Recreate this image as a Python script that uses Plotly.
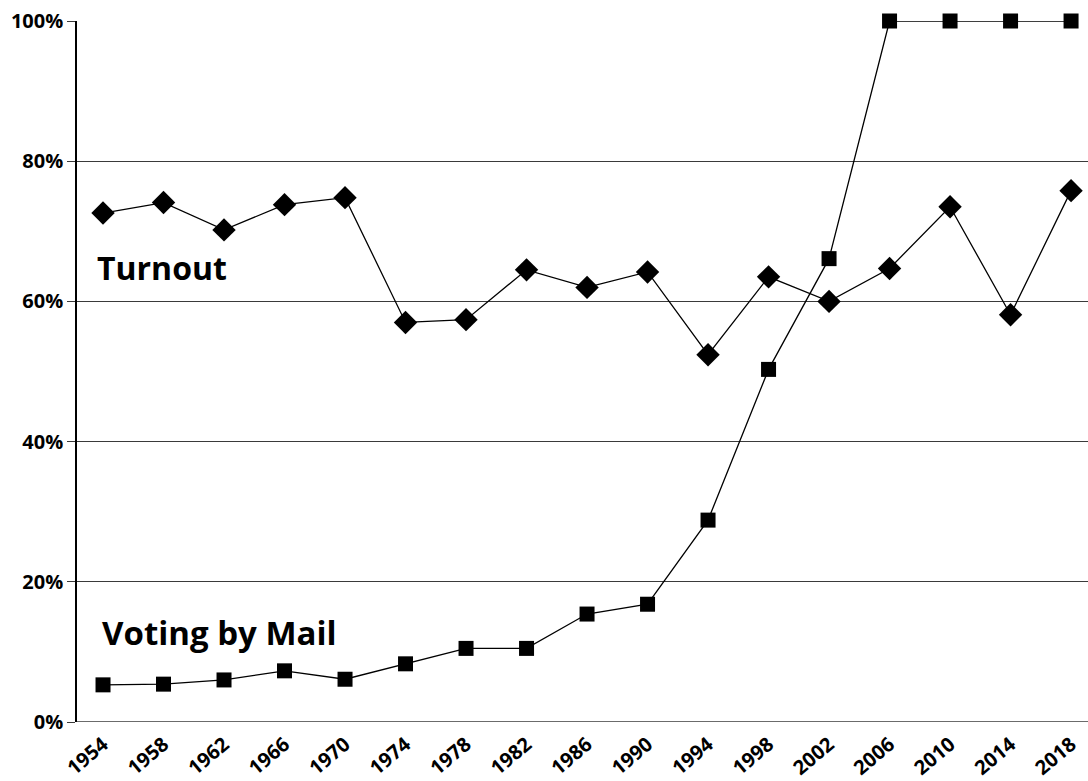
import plotly.graph_objects as go

years = [1954, 1958, 1962, 1966, 1970, 1974, 1978, 1982, 1986, 1990,
         1994, 1998, 2002, 2006, 2010, 2014, 2018]
turnout = [72.6, 74.1, 70.2, 73.8, 74.8, 57.0, 57.4, 64.5, 62.0, 64.2,
           52.4, 63.5, 60.0, 64.7, 73.5, 58.1, 75.8]
mail = [5.3, 5.4, 6.0, 7.3, 6.1, 8.3, 10.5, 10.5, 15.4, 16.8,
        28.8, 50.3, 66.1, 100, 100, 100, 100]
y_ticks = [0, 20, 40, 60, 80, 100]
y_labels = ["0%", "20%", "40%", "60%", "80%", "100%"]

FONT = "Open Sans"

fig = go.Figure()
fig.add_trace(go.Scatter(
    x=years, y=turnout, mode="lines+markers",
    line=dict(color="black", width=1.3),
    marker=dict(symbol="diamond", size=18, color="black"),
    cliponaxis=False, showlegend=False))
fig.add_trace(go.Scatter(
    x=years, y=mail, mode="lines+markers",
    line=dict(color="black", width=1.3),
    marker=dict(symbol="square", size=15, color="black"),
    cliponaxis=False, showlegend=False))

fig.add_annotation(x=1954, y=64.8, xref="x", yref="y", text="<b>Turnout</b>",
                   showarrow=False, xanchor="left", yanchor="middle",
                   xshift=-8, font=dict(family=FONT, size=32, color="black"))
fig.add_annotation(x=1954, y=12.8, xref="x", yref="y", text="<b>Voting by Mail</b>",
                   showarrow=False, xanchor="left", yanchor="middle",
                   xshift=-3, font=dict(family=FONT, size=33, color="black"))

fig.update_layout(
    width=1088, height=781,
    margin=dict(l=77, r=0, t=21, b=59),
    plot_bgcolor="white", paper_bgcolor="white",
    font=dict(family=FONT, color="black"),
    xaxis=dict(
        range=[1952.28, 2019.12], tickvals=years, ticktext=[str(y) for y in years],
        tickangle=-40, showgrid=False, zeroline=False, showline=False,
        ticks="outside", ticklen=2, tickcolor="rgba(0,0,0,0)", automargin=False,
        tickfont=dict(family=FONT, size=20, color="black", weight="bold"),
    ),
    yaxis=dict(
        range=[0, 100], tickvals=y_ticks, ticktext=y_labels,
        showgrid=True, gridcolor="#3a3a3a", gridwidth=1,
        zeroline=False, showline=True, linecolor="black", linewidth=1.5,
        ticks="outside", ticklen=8, tickcolor="#3a3a3a", automargin=False,
        tickfont=dict(family=FONT, size=20, color="black", weight="bold"),
    ),
)
fig.add_shape(type="line", xref="paper", yref="y", x0=0, x1=1, y0=0, y1=0,
              line=dict(color="#3a3a3a", width=1.5))

fig.write_html("out.html", config={"displayModeBar": False},
               post_script="document.body.style.margin='0';document.body.style.overflow='hidden';")
